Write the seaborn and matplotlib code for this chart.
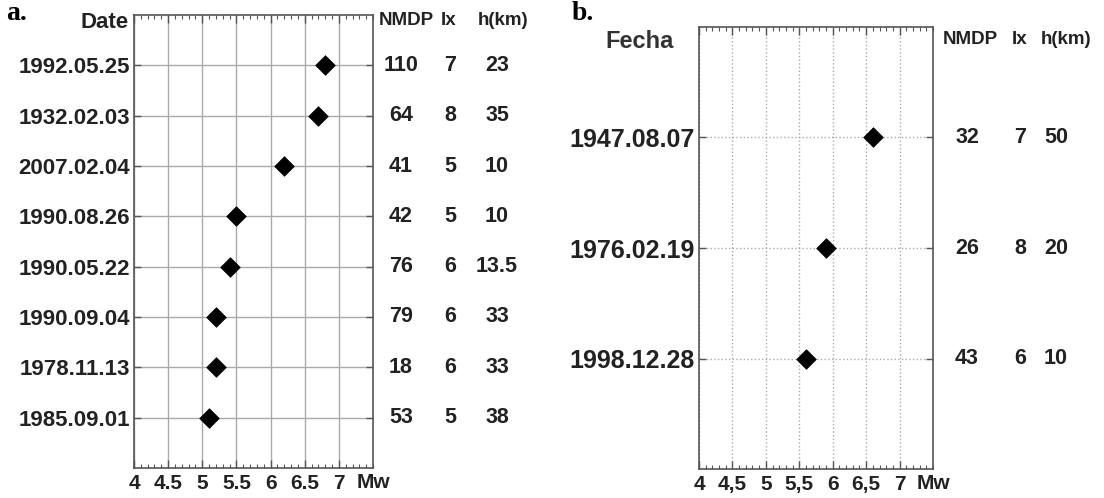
import matplotlib
matplotlib.use("Agg")
import matplotlib.pyplot as plt
import matplotlib.transforms as mtransforms
import seaborn as sns
import pandas as pd

# ── dados do painel a ─────────────────────────────────────────
datas_a = ['1992.05.25', '1932.02.03', '2007.02.04', '1990.08.26',
           '1990.05.22', '1990.09.04', '1978.11.13', '1985.09.01']
mw_a = [6.8, 6.7, 6.2, 5.5, 5.4, 5.2, 5.2, 5.1]
nmdp_a = ['110', '64', '41', '42', '76', '79', '18', '53']
ix_a = ['7', '8', '5', '5', '6', '6', '6', '5']
h_a = ['23', '35', '10', '10', '13.5', '33', '33', '38']
xticks_a = ['4', '4.5', '5', '5.5', '6', '6.5', '7']

# ── dados do painel b ─────────────────────────────────────────
datas_b = ['1947.08.07', '1976.02.19', '1998.12.28']
mw_b = [6.6, 5.9, 5.6]
nmdp_b = ['32', '26', '43']
ix_b = ['7', '8', '6']
h_b = ['50', '20', '10']
xticks_b = ['4', '4,5', '5', '5,5', '6', '6,5', '7']

sns.set_theme(style="white")
plt.rcParams['font.family'] = ['Liberation Sans', 'DejaVu Sans']
TXT = '#222222'

fig = plt.figure(figsize=(11.04, 4.98), dpi=100)
ax_a = fig.add_axes([134/1104, 30/498, 239/1104, 453/498])
ax_b = fig.add_axes([699/1104, 29/498, 234/1104, 442/498])


def painel(ax, datas, mw, nmdp, ix, h, xticks, grid_ls, lab_fs, cols):
    n = len(datas)
    df = pd.DataFrame({'pos': range(1, n + 1), 'mw': mw})
    sns.scatterplot(data=df, x='mw', y='pos', marker='D', s=100,
                    color='black', edgecolor='black', linewidth=0.5,
                    ax=ax, zorder=5)
    ax.set_xlim(4, 7.5)
    ax.set_ylim(n + 1, 0)
    ax.set_xticks([4 + 0.5 * i for i in range(len(xticks))])
    ax.set_xticklabels(xticks, fontsize=15, fontweight='bold', color=TXT)
    ax.set_xticks([4 + 0.1 * i for i in range(36)], minor=True)
    ax.set_yticks(range(1, n + 1))
    ax.set_yticklabels(datas, fontsize=lab_fs, fontweight='bold', color=TXT)
    ax.set_xlabel('')
    ax.set_ylabel('')
    ax.tick_params(axis='x', which='major', direction='in', length=6, width=1,
                   top=True, bottom=True, pad=4, color='#555555')
    ax.tick_params(axis='x', which='minor', direction='in', length=3, width=0.8,
                   top=True, bottom=True, color='#555555')
    ax.tick_params(axis='y', direction='in', length=5, width=1, left=True,
                   right=True, pad=3, color='#555555')
    ax.grid(True, which='major', color='#aaaaaa', linestyle=grid_ls, linewidth=1)
    for s in ax.spines.values():
        s.set_color('#555555')
        s.set_linewidth(1.2)

    # colunas NMDP, Ix, h(km) alinhadas com cada linha
    tr = mtransforms.blended_transform_factory(fig.transFigure, ax.transData)
    for x, vals in zip(cols, [nmdp, ix, h]):
        for i, v in enumerate(vals):
            ax.text(x / 1104, i + 1, v, transform=tr, fontsize=15.5,
                    fontweight='bold', color=TXT, ha='center', va='center')

    # rótulo Mw no eixo x
    trx = mtransforms.blended_transform_factory(ax.transData, ax.transAxes)
    ax.text(7.5, -0.012, 'Mw', transform=trx, fontsize=15, fontweight='bold',
            color=TXT, ha='center', va='top', clip_on=False)


painel(ax_a, datas_a, mw_a, nmdp_a, ix_a, h_a, xticks_a, '-', 16,
       [401, 450, 497])
painel(ax_b, datas_b, mw_b, nmdp_b, ix_b, h_b, xticks_b, ':', 18,
       [967, 1020, 1056])

# cabeçalhos das colunas
for x, y, t in [(406, 20, 'NMDP'), (449, 20, 'Ix'), (503, 20, 'h(km)'),
                (970, 40, 'NMDP'), (1020, 40, 'Ix'), (1066, 40, 'h(km)')]:
    fig.text(x / 1104, 1 - y / 498, t, fontsize=13.5, fontweight='bold',
             color=TXT, ha='center', va='center')

fig.text(129/1104, 1 - 22/498, 'Date', fontsize=16, fontweight='bold', color=TXT, ha='right', va='center')
fig.text(640/1104, 1 - 42/498, 'Fecha', fontsize=17, fontweight='bold', color='#333333', ha='center', va='center')

fig.text(6/1104, 1 - 13/498, 'a.', fontsize=20, fontweight='bold', family='Liberation Serif', color='black', ha='left', va='center')
fig.text(572/1104, 1 - 14/498, 'b.', fontsize=20, fontweight='bold', family='Liberation Serif', color='black', ha='left', va='center')

fig.savefig('out.png', dpi=100, facecolor='white')
